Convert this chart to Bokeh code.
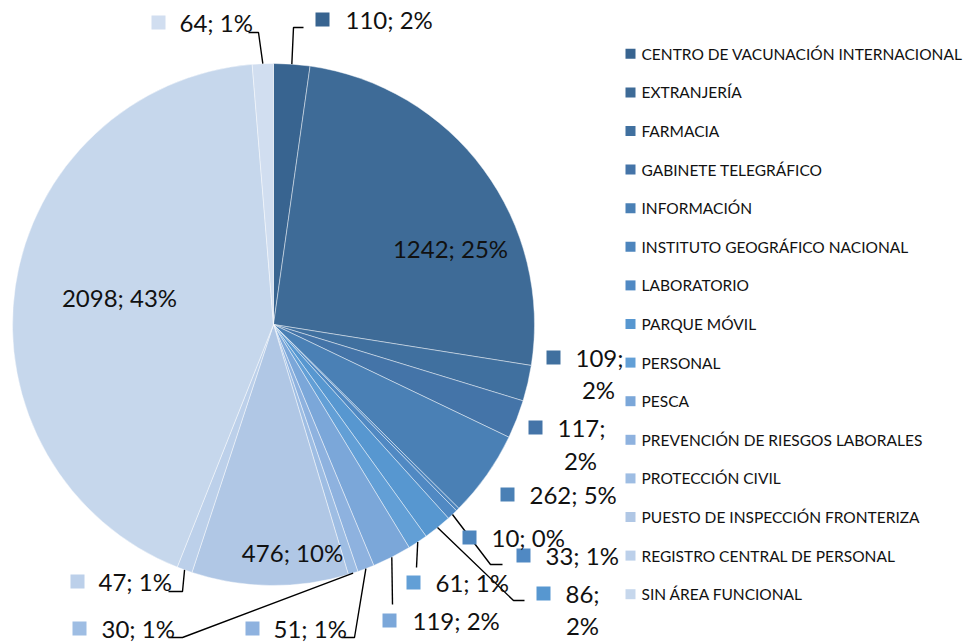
import math
from bokeh.plotting import figure
from bokeh.models import ColumnDataSource, Range1d
from bokeh.core.properties import value
from bokeh.embed import file_html
from bokeh.resources import INLINE

# ---------------- data ----------------
categories = [
    "CENTRO DE VACUNACIÓN INTERNACIONAL",
    "EXTRANJERÍA",
    "FARMACIA",
    "GABINETE TELEGRÁFICO",
    "INFORMACIÓN",
    "INSTITUTO GEOGRÁFICO NACIONAL",
    "LABORATORIO",
    "PARQUE MÓVIL",
    "PERSONAL",
    "PESCA",
    "PREVENCIÓN DE RIESGOS LABORALES",
    "PROTECCIÓN CIVIL",
    "PUESTO DE INSPECCIÓN FRONTERIZA",
    "REGISTRO CENTRAL DE PERSONAL",
    "SIN ÁREA FUNCIONAL",
    "OTROS",
]
values = [110, 1242, 109, 117, 262, 10, 33, 86, 61, 119, 51, 30, 476, 47, 2098, 64]
colors = [
    "#386490", "#3e6b97", "#40709f", "#4474a8", "#4a80b5", "#4d85bd",
    "#5089c3", "#5797d0", "#629fd6", "#7ba7d9", "#8eb2df", "#9ebde3",
    "#b0c7e5", "#bcd0ea", "#c6d7ec", "#d1def0",
]
legend_shown = 15  # the reference legend lists the first 15 categories

# ---------------- layout (reference pixel coordinates) ----------------
W, H = 970, 644
def X(rx):
    return rx
def Y(ry):
    return H - ry

CX, CY, R = 273, 324, 261
LABEL_FONT = "24px"
LEGEND_FONT = "15.5px"
FONT = value("Lato")
TEXT_COLOR = "#111111"

# per-slice label placement
label_layout = [
    dict(kind="out", sq=(322, 19), t=(345, 19), leader=[(293, 27), (303, 27)]),
    dict(kind="in", c=(450, 248)),
    dict(kind="out", sq=(553, 357), t=(575, 357), wrap=(598, 389)),
    dict(kind="out", sq=(535, 427), t=(557, 427), wrap=(580, 460)),
    dict(kind="out", sq=(507, 494), t=(529, 494)),
    dict(kind="out", sq=(469, 537), t=(491, 537)),
    dict(kind="out", sq=(523, 555), t=(545, 555), leader=[(490, 564), (502, 564)]),
    dict(kind="out", sq=(543, 593), t=(565, 593), wrap=(582, 625), leader=[(513, 600), (524, 600)]),
    dict(kind="out", sq=(413, 582), t=(435, 582), leader=[(416, 567)]),
    dict(kind="out", sq=(389, 620), t=(412, 620), leader=[(392, 604)]),
    dict(kind="out", sq=(252, 628), t=(273, 628), leader=[(354, 637), (341, 637)]),
    dict(kind="out", sq=(79, 628), t=(101, 628), leader=[(182, 637), (168, 637)]),
    dict(kind="in", c=(292, 552)),
    dict(kind="out", sq=(77, 581), t=(98, 581), leader=[(182, 591), (168, 591)]),
    dict(kind="in", c=(119, 297)),
    dict(kind="out", sq=(158, 22), t=(179, 22), leader=[(258, 32), (248, 32)]),
]

# ---------------- figure ----------------
p = figure(width=W, height=H, x_range=Range1d(0, W), y_range=Range1d(0, H),
           output_backend="svg", toolbar_location=None, min_border=0)
p.axis.visible = False
p.grid.visible = False
p.outline_line_color = None
p.background_fill_color = "white"
p.border_fill_color = "white"

total = float(sum(values))
starts, ends, mids = [], [], []
c = 0.0
for v in values:
    c0 = c / total
    c += v
    c1 = c / total
    starts.append(math.pi / 2 - 2 * math.pi * c1)
    ends.append(math.pi / 2 - 2 * math.pi * c0)
    mids.append((c0 + c1) / 2)

src = ColumnDataSource(dict(start=starts, end=ends, color=colors))
p.wedge(x=X(CX), y=Y(CY), radius=R, start_angle="start", end_angle="end",
        fill_color="color", line_color="white", line_width=0.8, line_alpha=0.55,
        source=src)

# ---------------- data labels ----------------
sq_x, sq_y, sq_c = [], [], []
t_x, t_y, t_s = [], [], []
w_x, w_y, w_s = [], [], []
i_x, i_y, i_s = [], [], []
lead_xs, lead_ys = [], []

for i, (v, lay) in enumerate(zip(values, label_layout)):
    pct = int(round(v / total * 100))
    if lay["kind"] == "in":
        i_x.append(X(lay["c"][0])); i_y.append(Y(lay["c"][1]))
        i_s.append(f"{v}; {pct}%")
        continue
    sq_x.append(X(lay["sq"][0])); sq_y.append(Y(lay["sq"][1])); sq_c.append(colors[i])
    if "wrap" in lay:
        t_x.append(X(lay["t"][0])); t_y.append(Y(lay["t"][1])); t_s.append(f"{v};")
        w_x.append(X(lay["wrap"][0])); w_y.append(Y(lay["wrap"][1])); w_s.append(f"{pct}%")
    else:
        t_x.append(X(lay["t"][0])); t_y.append(Y(lay["t"][1])); t_s.append(f"{v}; {pct}%")
    if "leader" in lay:
        ang = 2 * math.pi * mids[i]
        ex = CX + R * math.sin(ang)
        ey = CY - R * math.cos(ang)
        pts = [(ex, ey)] + lay["leader"]
        lead_xs.append([X(a) for a, b in pts])
        lead_ys.append([Y(b) for a, b in pts])

p.multi_line(xs=lead_xs, ys=lead_ys, line_color="black", line_width=1.4)
p.rect(x=sq_x, y=sq_y, width=14, height=14, fill_color=sq_c, line_color=None)
p.text(x=t_x, y=t_y, text=t_s, text_font=FONT, text_font_size=LABEL_FONT,
       text_baseline="middle", text_align="left", text_color=TEXT_COLOR)
p.text(x=w_x, y=w_y, text=w_s, text_font=FONT, text_font_size=LABEL_FONT,
       text_baseline="middle", text_align="center", text_color=TEXT_COLOR)
p.text(x=i_x, y=i_y, text=i_s, text_font=FONT, text_font_size=LABEL_FONT,
       text_baseline="middle", text_align="center", text_color=TEXT_COLOR)

# ---------------- legend ----------------
LEG_SQ_X, LEG_TX, LEG_Y0, LEG_STEP = 630, 641, 53.3, 38.6
lg_y = [Y(LEG_Y0 + LEG_STEP * k) for k in range(legend_shown)]
p.rect(x=[X(LEG_SQ_X)] * legend_shown, y=lg_y, width=10, height=10,
       fill_color=colors[:legend_shown], line_color=None)
p.text(x=[X(LEG_TX)] * legend_shown, y=lg_y, text=categories[:legend_shown],
       text_font=FONT, text_font_size=LEGEND_FONT, text_baseline="middle",
       text_align="left", text_color=TEXT_COLOR)

open("out.html", "w").write(file_html(p, INLINE))
